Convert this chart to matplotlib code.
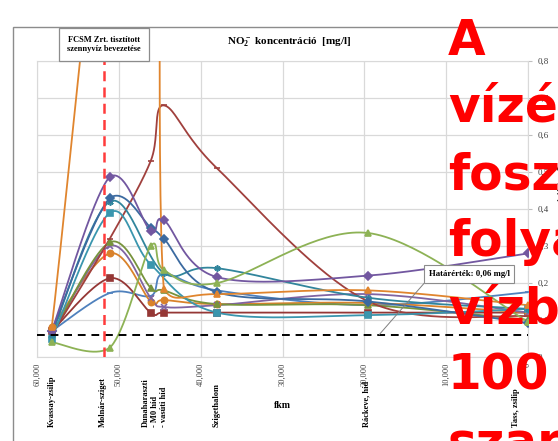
import numpy as np
import matplotlib
matplotlib.use("Agg")
import matplotlib.pyplot as plt
from matplotlib.patches import Rectangle
from matplotlib.ticker import FuncFormatter, MultipleLocator

plt.rcParams["font.family"] = ["Liberation Serif", "DejaVu Serif"]
plt.rcParams["mathtext.fontset"] = "custom"
plt.rcParams["mathtext.rm"] = "Liberation Serif"
plt.rcParams["mathtext.bf"] = "Liberation Serif:bold"

# sampling sites along the Ráckevei-Duna (fkm)
site_fkm = [58200, 51100, 46100, 44500, 38000, 19500, 0]
site_names = ["Kvassay-zsilip", "Molnár-sziget", "Dunaharaszti\n- M0 híd\n- vasúti híd",
              "Szigethalom", "Ráckeve, híd", "Tass, zsilip"]
site_label_fkm = [58170, 51950, 45600, 38050, 19760, 1460]

nan = np.nan
purple_d = [0.07, 0.487, 0.34, 0.37, 0.216, 0.22, 0.28]
blue_d = [0.07, 0.43, 0.35, 0.32, 0.175, 0.15, 0.092]
teal_ast = [0.06, 0.42, nan, 0.227, 0.24, 0.16, 0.13]
teal_sq = [0.05, 0.39, 0.25, nan, 0.12, 0.113, 0.13]
red_dash = [0.06, 0.32, 0.53, 0.68, 0.51, 0.15, 0.11]
green_l = [0.04, 0.025, 0.30, 0.235, 0.20, 0.335, 0.095]
green_tri = [0.06, 0.31, 0.187, 0.18, 0.143, 0.14, 0.10]
purple_x = [0.06, 0.30, 0.16, 0.135, 0.14, 0.17, 0.12]
orange_c = [0.08, 0.28, 0.15, 0.154, 0.143, 0.146, 0.12]
orange_tri = [0.08, nan, 2.3, 0.183, 0.17, 0.18, 0.14]
red_sq = [0.07, 0.213, 0.12, 0.12, 0.12, 0.12, 0.12]
blue_dash = [0.07, 0.173, 0.165, 0.225, 0.18, 0.14, 0.175]

limit = 0.06
fcsm_fkm = 51830

series = [
    (blue_dash, "#4F81BD", "_"),
    (red_sq, "#953735", "s"),
    (orange_c, "#D9822B", "o"),
    (purple_x, "#8064A2", "x"),
    (green_tri, "#77933C", "^"),
    (red_dash, "#A0403D", "_"),
    (teal_sq, "#3A96AE", "s"),
    (teal_ast, "#31859C", (6, 2, 0)),
    (blue_d, "#3B6AA0", "D"),
    (purple_d, "#7257A0", "D"),
    (green_l, "#8DB255", "^"),
    (orange_tri, "#E0852E", "^"),
]


def smooth(xs, ys, n=40, margin=0.03):
    # Excel-like smoothed line (Catmull-Rom as cubic Bezier),
    # control points kept near the segment so spikes do not overshoot
    pts = np.column_stack([xs, ys])
    out = []
    for i in range(len(pts) - 1):
        p0 = pts[i - 1] if i > 0 else pts[i]
        p1, p2 = pts[i], pts[i + 1]
        p3 = pts[i + 2] if i + 2 < len(pts) else pts[i + 1]
        c1 = p1 + (p2 - p0) / 6
        c2 = p2 - (p3 - p1) / 6
        lo, hi = min(p1[1], p2[1]) - margin, max(p1[1], p2[1]) + margin
        c1[1] = np.clip(c1[1], lo, hi)
        c2[1] = np.clip(c2[1], lo, hi)
        t = np.linspace(0, 1, n)[:, None]
        out.append((1 - t) ** 3 * p1 + 3 * (1 - t) ** 2 * t * c1
                   + 3 * (1 - t) * t ** 2 * c2 + t ** 3 * p2)
    return np.vstack(out)


W, H = 558, 441
fig = plt.figure(figsize=(W / 100, H / 100), dpi=100)
ax = fig.add_axes([37 / W, 1 - 357 / H, 491 / W, 296 / H])

for vals, color, marker in series:
    x = np.array(site_fkm, dtype=float)
    y = np.array(vals, dtype=float)
    ok = ~np.isnan(y)
    curve = smooth(x[ok], y[ok])
    ax.plot(curve[:, 0], curve[:, 1], color=color, lw=1.3, zorder=3)
    ax.plot(x[ok], y[ok], ls="none", marker=marker, ms=4.5, color=color,
            mec=color, mew=1.2, zorder=4)

ax.axhline(limit, color="black", lw=1.4, ls=(0, (4, 3)), zorder=5)
ax.axvline(fcsm_fkm, color="#FF3B3B", lw=1.8, ls=(0, (4, 2.5)), zorder=5)

ax.set_xlim(60000, 0)
ax.set_ylim(0, 0.8)
ax.xaxis.set_major_locator(MultipleLocator(10000))
ax.yaxis.set_major_locator(MultipleLocator(0.1))
ax.xaxis.set_major_formatter(FuncFormatter(lambda v, p: f"{v:,.0f}"))
ax.yaxis.set_major_formatter(
    FuncFormatter(lambda v, p: "0" if abs(v) < 1e-9 else f"{v:.1f}".replace(".", ",")))
ax.yaxis.tick_right()
ax.yaxis.set_label_position("right")
ax.tick_params(axis="x", labelsize=6, rotation=90, length=0, pad=4, colors="#404040")
ax.tick_params(axis="y", labelsize=6.5, length=3, pad=4, color="#BFBFBF", labelcolor="#404040")
ax.grid(True, color="#D9D9D9", lw=0.9)
ax.set_axisbelow(True)
for sp in ax.spines.values():
    sp.set_color("#D9D9D9")

ax.set_ylabel(r"$\mathbf{NO_2^-}$ koncentráció (mg/l)", fontsize=6, fontweight="bold",
              labelpad=5)
ax.set_xlabel("fkm", fontsize=7, fontweight="bold")
ax.xaxis.set_label_coords(0.5, -0.15)

trans = ax.get_xaxis_transform()
for name, xf in zip(site_names, site_label_fkm):
    ax.text(xf, -0.2365, name, transform=trans, rotation=90, ha="center", va="bottom",
            fontsize=6, fontweight="bold", multialignment="left", linespacing=1.15)

ax.annotate("Határérték: 0,06 mg/l", xy=(18200, limit), xytext=(7195, 0.224),
            ha="center", va="center", fontsize=6.3, fontweight="bold", zorder=6,
            bbox=dict(boxstyle="square,pad=0.55", fc="white", ec="#8C8C8C", lw=0.8),
            arrowprops=dict(arrowstyle="-", color="#7F7F7F", lw=0.7, relpos=(0, 0),
                            shrinkA=0, shrinkB=0))

# title and outer chart frame
fig.text(289 / W, 1 - 42 / H, r"$\mathbf{NO_2^-}$ koncentráció  [mg/l]",
         ha="center", va="center", fontsize=8, fontweight="bold")
fig.add_artist(Rectangle((13 / W, -0.1), 1.2, 1.1 - 27 / H, transform=fig.transFigure,
                         fill=False, ec="#8C8C8C", lw=1.0, zorder=0))

# FCSM box
fig.add_artist(Rectangle((59 / W, 1 - 61 / H), 90 / W, 33 / H, transform=fig.transFigure,
                         fc="white", ec="#8C8C8C", lw=0.9, zorder=6))
fig.text(104 / W, 1 - 44.5 / H, "FCSM Zrt. tisztított\nszennyvíz bevezetése",
         ha="center", va="center", fontsize=6, fontweight="bold", linespacing=1.3, zorder=7)

# red overlay text
overlay = ["A", "vízévben", "foszfor", "folyamatos", "vízbe", "100", "szarvasmarha"]
baselines = [55, 122, 189, 256, 323, 390, 457]
for word, yb in zip(overlay, baselines):
    fig.text(448 / W, 1 - yb / H, word, ha="left", va="baseline", fontsize=35,
             fontweight="bold", family="DejaVu Sans", color="#FF0000", zorder=10)

fig.savefig("out.png", dpi=100)
